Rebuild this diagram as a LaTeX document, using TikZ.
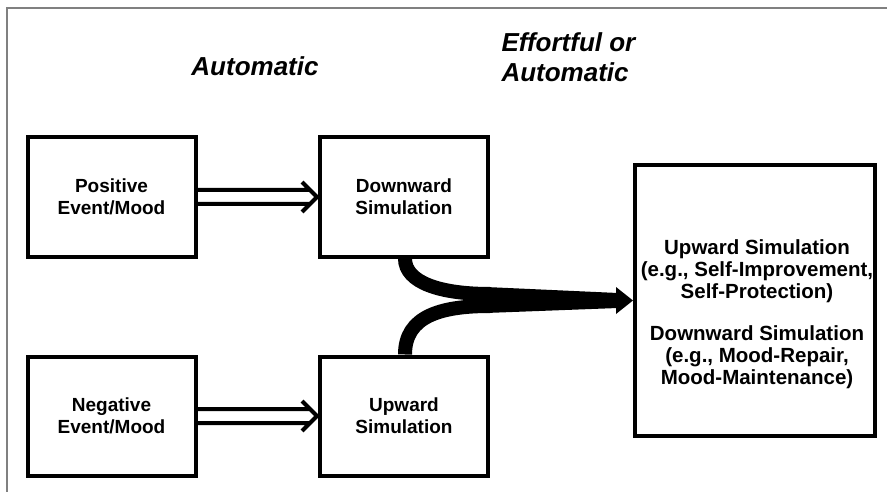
\documentclass[tikz,border=0pt]{standalone}
\usepackage{fontspec}
\setmainfont{Liberation Sans}
\usetikzlibrary{arrows.meta}

\begin{document}
\begin{tikzpicture}[x=1pt, y=-1pt,
    box/.style={draw, line width=4pt, fill=white, minimum width=168pt, minimum height=119pt,
        align=center, font=\fontsize{19}{22}\selectfont\bfseries},
    hollow/.style={line width=4pt, line join=miter, to path={
        ([yshift=7pt]\tikztostart.east) -- ([xshift=-8pt,yshift=7pt]\tikztotarget.west)
        ([yshift=-7pt]\tikztostart.east) -- ([xshift=-8pt,yshift=-7pt]\tikztotarget.west)
        ([xshift=-16pt,yshift=15pt]\tikztotarget.west) -- ([xshift=-1pt]\tikztotarget.west)
            -- ([xshift=-16pt,yshift=-15pt]\tikztotarget.west)}},
    flow/.style={line width=14pt},
    heading/.style={font=\fontsize{26}{30}\selectfont\bfseries\itshape, align=left}]
    \useasboundingbox (0,0) rectangle (887,492);

    % Frame
    \draw[gray, line width=2pt] (7,492) -- (7,8) -- (887,8);

    % Headings
    \node[heading] (auto) at (255,66) {Automatic};
    \node[heading, anchor=west] (either) at (498,57) {Effortful or\\Automatic};

    % Draw nodes
    \node[box] (pos) at (111.5,197) {Positive\\Event/Mood};
    \node[box] (neg) at (111.5,416) {Negative\\Event/Mood};
    \node[box] (down) at (404,197) {Downward\\Simulation};
    \node[box] (up) at (404,416) {Upward\\Simulation};
    \node[draw, line width=4pt, minimum width=240pt, minimum height=271pt] (big) at (755,300.5) {};
    \node[align=center, font=\fontsize{20.5}{22}\selectfont\bfseries] (bigtext) at ([xshift=2pt,yshift=-14pt]big.center)
        {Upward Simulation\\(e.g., Self-Improvement,\\Self-Protection)\\[20pt]
         Downward Simulation\\(e.g., Mood-Repair,\\Mood-Maintenance)};

    % Draw connections
    \draw[hollow] (pos) to (down);
    \draw[hollow] (neg) to (up);

    \coordinate (upjoin) at (490,294);
    \coordinate (lowjoin) at (490,306);
    \draw[flow] ([xshift=87pt]down.south west) .. controls +(0,24) and +(-50,0) .. (upjoin);
    \draw[flow] ([xshift=87pt]up.north west) .. controls +(0,-38) and +(-50,0) .. (lowjoin);
    \fill (486,287) -- (618,293) -- (618,308) -- (486,313) -- cycle;
    \fill (616,287) -- (big.west) -- (616,314) -- cycle;
\end{tikzpicture}
\end{document}
